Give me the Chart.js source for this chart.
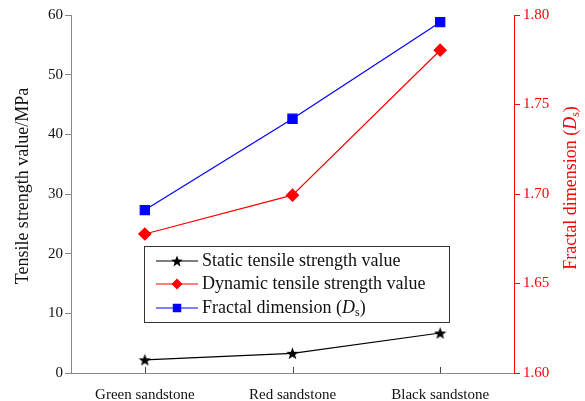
<!DOCTYPE html>
<html>
<head>
<meta charset="utf-8">
<script src="https://cdn.jsdelivr.net/npm/chart.js@4"></script>
<style>
  html, body { margin: 0; padding: 0; background: #fff; }
  #wrap { width: 585px; height: 401px; }
</style>
</head>
<body>
<div id="wrap"><canvas id="chart" width="585" height="401"></canvas></div>
<script>
const categories = ["Green sandstone", "Red sandstone", "Black sandstone"];
const staticStrength = [2.2, 3.3, 6.7];
const dynamicStrength = [23.3, 29.8, 54.1];
const fractalDim = [1.691, 1.742, 1.796];
const leftTicks = [0, 10, 20, 30, 40, 50, 60];
const rightTicks = [1.60, 1.65, 1.70, 1.75, 1.80];

const FONT = "Liberation Serif";

// filled five-point star used as point marker
function makeStar(size) {
    const c = document.createElement("canvas");
    c.width = size;
    c.height = size;
    const g = c.getContext("2d");
    const r = size / 2, ri = r * 0.42;
    g.beginPath();
    for (let k = 0; k < 10; k++) {
        const rr = k % 2 === 0 ? r : ri;
        const a = -Math.PI / 2 + k * Math.PI / 5;
        const px = r + rr * Math.cos(a), py = r + 0.6 + rr * Math.sin(a);
        if (k === 0) g.moveTo(px, py); else g.lineTo(px, py);
    }
    g.closePath();
    g.fillStyle = "#000";
    g.fill();
    return c;
}
const starImg = makeStar(13);
const starSmall = makeStar(12);

function drawParts(ctx, parts, x, y) {
    parts.forEach(p => {
        ctx.font = p[1];
        ctx.fillText(p[0], x, y + p[2]);
        x += ctx.measureText(p[0]).width;
    });
}

// legend box, axis titles, inner x ticks
const extras = {
    id: "extras",
    afterDraw(chart) {
        const ctx = chart.ctx;
        const x = chart.scales.x;
        const area = chart.chartArea;
        ctx.save();

        // x tick marks pointing up into the plot
        ctx.strokeStyle = "#444";
        ctx.lineWidth = 1;
        categories.forEach((c, i) => {
            const px = Math.round(x.getPixelForValue(i)) + 0.5;
            ctx.beginPath();
            ctx.moveTo(px, area.bottom);
            ctx.lineTo(px, area.bottom - 6);
            ctx.stroke();
        });

        // left title
        ctx.fillStyle = "#111";
        ctx.font = "18px " + FONT;
        ctx.textAlign = "center";
        ctx.textBaseline = "middle";
        ctx.save();
        ctx.translate(23, 186);
        ctx.rotate(-Math.PI / 2);
        ctx.fillText("Tensile strength value/MPa", 0, 0);
        ctx.restore();

        // right title: Fractal dimension (Ds)
        ctx.save();
        ctx.translate(571, 188);
        ctx.rotate(-Math.PI / 2);
        ctx.fillStyle = "#ff0000";
        const parts = [
            ["Fractal dimension (", "18px " + FONT, 0],
            ["D", "italic 18px " + FONT, 0],
            ["s", "12px " + FONT, 5],
            [")", "18px " + FONT, 0]
        ];
        let total = 0;
        parts.forEach(p => { ctx.font = p[1]; total += ctx.measureText(p[0]).width; });
        ctx.textAlign = "left";
        drawParts(ctx, parts, -total / 2, 0);
        ctx.restore();

        // legend
        const bx = 144.5, by = 246.5, bw = 305, bh = 76;
        ctx.fillStyle = "#fff";
        ctx.fillRect(bx, by, bw, bh);
        ctx.strokeStyle = "#333";
        ctx.lineWidth = 1;
        ctx.strokeRect(bx, by, bw, bh);
        const rows = [261, 284, 308];
        chart.data.datasets.forEach((ds, i) => {
            const y = rows[i];
            ctx.strokeStyle = ds.borderColor;
            ctx.lineWidth = 1.2;
            ctx.beginPath();
            ctx.moveTo(156, y);
            ctx.lineTo(198, y);
            ctx.stroke();
            ctx.fillStyle = ds.pointBackgroundColor;
            Chart.helpers.drawPoint(ctx, {
                pointStyle: i === 0 ? starSmall : ds.pointStyle,
                radius: ds.pointRadius - 0.5,
                rotation: 0,
                borderWidth: 0
            }, 177, y);
            ctx.fillStyle = "#111";
            ctx.textAlign = "left";
            ctx.textBaseline = "middle";
            if (i < 2) {
                ctx.font = "18px " + FONT;
                ctx.fillText(ds.label, 202, y);
            } else {
                drawParts(ctx, [
                    ["Fractal dimension (", "18px " + FONT, 0],
                    ["D", "italic 18px " + FONT, 0],
                    ["s", "12px " + FONT, 5],
                    [")", "18px " + FONT, 0]
                ], 202, y);
            }
        });
        ctx.restore();
    }
};

new Chart(document.getElementById("chart"), {
    type: "line",
    data: {
        labels: categories,
        datasets: [{
            label: "Static tensile strength value",
            data: staticStrength,
            yAxisID: "y",
            borderColor: "#000",
            backgroundColor: "#000",
            pointBackgroundColor: "#000",
            pointStyle: starImg,
            pointRadius: 6,
            borderWidth: 1.2
        }, {
            label: "Dynamic tensile strength value",
            data: dynamicStrength,
            yAxisID: "y",
            borderColor: "#ff0000",
            backgroundColor: "#ff0000",
            pointBackgroundColor: "#ff0000",
            pointStyle: "rectRot",
            pointRadius: 6,
            borderWidth: 1.2
        }, {
            label: "Fractal dimension (Ds)",
            data: fractalDim,
            yAxisID: "y1",
            borderColor: "#0000ff",
            backgroundColor: "#0000ff",
            pointBackgroundColor: "#0000ff",
            pointStyle: "rect",
            pointRadius: 6.5,
            borderWidth: 1.2
        }]
    },
    options: {
        responsive: false,
        animation: false,
        layout: { padding: { top: 15, left: 0, right: 0, bottom: 0 } },
        plugins: { legend: { display: false }, tooltip: { enabled: false } },
        scales: {
            x: {
                offset: true,
                grid: { display: false, offset: true },
                border: { display: true, color: "#888", width: 1 },
                ticks: { color: "#111", font: { family: FONT, size: 15 }, padding: 5 },
                afterFit(s) { s.height = 28; }
            },
            y: {
                position: "left",
                min: 0, max: 60,
                afterBuildTicks(s) { s.ticks = leftTicks.map(v => ({ value: v })); },
                grid: { drawOnChartArea: false, tickLength: 6, color: "#888" },
                border: { display: true, color: "#888", width: 1 },
                ticks: { color: "#111", font: { family: FONT, size: 15 }, padding: 2 },
                afterFit(s) { s.width = 71; }
            },
            y1: {
                position: "right",
                min: 1.6, max: 1.8,
                afterBuildTicks(s) { s.ticks = rightTicks.map(v => ({ value: v })); },
                grid: { drawOnChartArea: false, tickLength: 6, color: "#ff0000" },
                border: { display: true, color: "#ff0000", width: 1 },
                ticks: {
                    color: "#ff0000",
                    font: { family: FONT, size: 15 },
                    padding: 3,
                    callback: v => v.toFixed(2)
                },
                afterFit(s) { s.width = 71; }
            }
        }
    },
    plugins: [extras]
});
</script>
</body>
</html>
